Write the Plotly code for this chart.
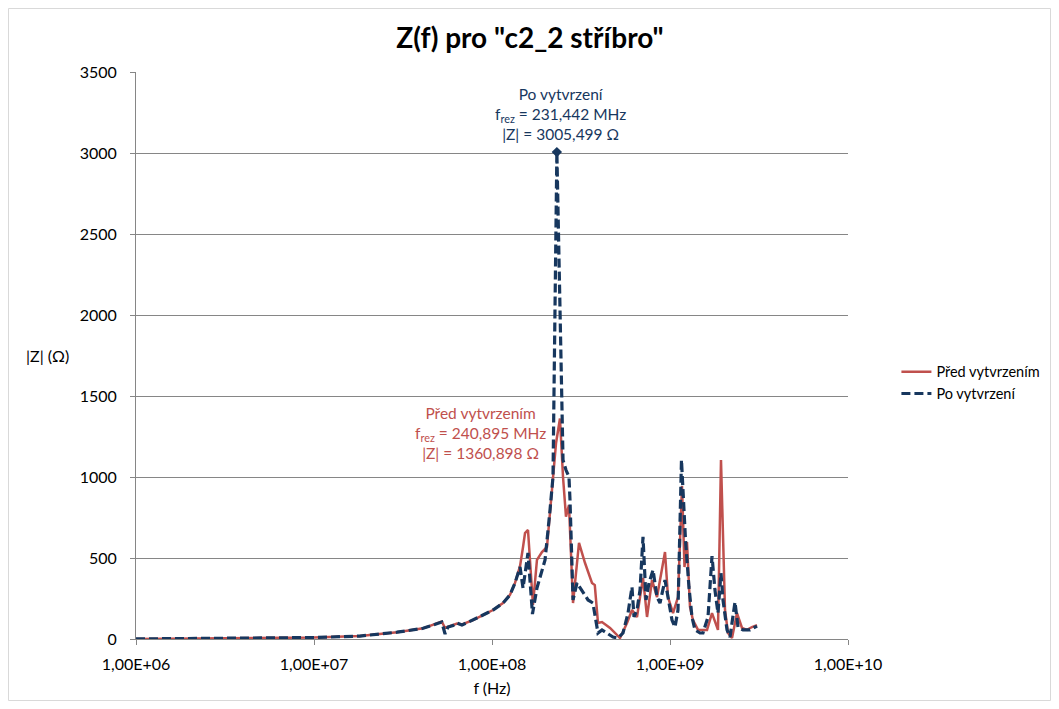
import plotly.graph_objects as go

# --- Data ---
# "Před vytvrzením" (before curing)
f_pred_mhz = [1.0, 1.77, 3.16, 5.66, 10.0, 18.1, 29.3, 41.0, 49.1, 52.2, 54.5, 56.6, 60.4, 63.6, 67.8,
              78.2, 89.0, 101.3, 115.3, 126.2, 134.7, 143.7, 149.4, 153.3, 159.3, 165.6, 169.9, 178.9,
              190.9, 203.7, 217.3, 229.0, 240.895, 250.6, 260.4, 270.7, 285.2, 308.2, 333.1, 364.6,
              378.0, 393.9, 415.0, 460.3, 523.9, 573.4, 611.6, 652.5, 705.3, 742.8, 792.5, 845.3,
              937.4, 974.5, 1040, 1109, 1168, 1206, 1246, 1295, 1346, 1437, 1513, 1614, 1722, 1860,
              1934, 2037, 2118, 2230, 2379, 2538, 2708, 2888, 3082]
z_pred = [0.5, 1.5, 3, 5, 9, 18, 42, 66, 95, 108, 68, 74, 83, 95, 90,
          117, 148, 179, 222, 272, 346, 450, 568, 654, 673, 407, 210, 488,
          537, 568, 901, 1210, 1360.898, 1000, 755, 827, 222, 593, 469, 346,
          333, 99, 105, 68, 6, 99, 179, 136, 377, 136, 364, 259,
          537, 259, 160, 259, 944, 444, 599, 198, 117, 56, 56, 56, 160, 56,
          1105, 179, 37, 6, 160, 68, 56, 74, 86]

# "Po vytvrzení" (after curing)
f_po_mhz = [1.0, 1.77, 3.16, 5.66, 10.0, 18.1, 29.3, 41.0, 49.1, 52.2, 54.5, 56.6, 60.4, 63.2, 67.8,
            78.2, 89.0, 101.3, 115.3, 126.2, 134.7, 143.7, 149.4, 159.3, 168.8, 178.9, 198.6, 211.8,
            220.1, 231.442, 250.6, 260.4, 270.7, 274.3, 285.2, 300.3, 320.3, 346.3, 369.0, 383.9,
            393.9, 415.0, 442.8, 478.5, 510.5, 544.5, 580.8, 611.6, 627.7, 652.5, 678.5, 705.3,
            733.3, 762.3, 802.8, 845.3, 878.7, 937.4, 974.5, 1026, 1067, 1109, 1160, 1222, 1278,
            1329, 1382, 1474, 1532, 1635, 1722, 1789, 1860, 1934, 1985, 2091, 2173, 2318, 2410,
            2571, 2814, 3082]
z_po = [0.5, 1.5, 3, 5, 9, 18, 42, 66, 95, 105, 31, 74, 83, 100, 86,
        117, 148, 179, 222, 272, 346, 444, 315, 531, 154, 315, 488, 796,
        1000, 3005.499, 1105, 1043, 1000, 858, 241, 346, 302, 241, 222, 117,
        37, 56, 37, 12, 6, 37, 160, 321, 136, 179, 302, 630,
        241, 346, 426, 259, 222, 364, 259, 117, 74, 179, 1105, 611, 321,
        136, 56, 37, 37, 136, 512, 302, 160, 407, 241, 56, 12, 228, 74,
        56, 56, 80]

# Resonance labels
peak_po_f_mhz = 231.442
peak_po_z = 3005.499
peak_pred_f_mhz = 240.895
peak_pred_z = 1360.898

x_tick_vals = [1e6, 1e7, 1e8, 1e9, 1e10]
x_tick_text = ["1,00E+06", "1,00E+07", "1,00E+08", "1,00E+09", "1,00E+10"]

RED = "#C0504D"
NAVY = "#17375E"
FONT = "Lato, 'Open Sans', sans-serif"


def cz(v):
    return f"{v:.3f}".replace(".", ",")


fig = go.Figure()
fig.add_trace(go.Scatter(
    x=[v * 1e6 for v in f_pred_mhz], y=z_pred, mode="lines", name="Před vytvrzením",
    line=dict(color=RED, width=2.5)))
fig.add_trace(go.Scatter(
    x=[v * 1e6 for v in f_po_mhz], y=z_po, mode="lines", name="Po vytvrzení",
    line=dict(color=NAVY, width=3.2, dash="9px,4px")))
fig.add_trace(go.Scatter(
    x=[peak_po_f_mhz * 1e6], y=[peak_po_z], mode="markers", showlegend=False,
    marker=dict(symbol="diamond", size=8, color=NAVY)))

fig.add_annotation(
    x=8.385, y=peak_po_z, xref="x", yref="y", showarrow=False,
    text=("Po vytvrzení<br>f<sub>rez</sub> = " + cz(peak_po_f_mhz)
          + " MHz<br>|Z| = " + cz(peak_po_z) + " Ω"),
    font=dict(color=NAVY, size=15.5, family=FONT), align="center", yshift=38)

fig.add_annotation(
    x=8.0, y=peak_pred_z, xref="x", yref="y", showarrow=False,
    text=("Před vytvrzením<br>f<sub>rez</sub> = " + cz(peak_pred_f_mhz)
          + " MHz<br>|Z| = " + cz(peak_pred_z) + " Ω"),
    font=dict(color=RED, size=15.5, family=FONT), align="center", xshift=-12, yshift=-14)

fig.add_annotation(
    x=-0.1236, y=0.5, xref="paper", yref="paper", showarrow=False,
    text="|Z| (Ω)", font=dict(size=16, color="black", family=FONT), xanchor="center")

W, H = 1043, 693
L, T = 128, 64
PW, PH = 712, 567

fig.update_layout(
    width=W, height=H,
    margin=dict(l=L, r=W - L - PW, t=T, b=H - T - PH, autoexpand=False),
    paper_bgcolor="white", plot_bgcolor="white",
    font=dict(family=FONT, size=14, color="black"),
    title=dict(text='Z(f) pro "c2_2 stříbro"', x=(530 - 8) / W, xanchor="center",
               y=1 - 30 / H, yanchor="middle",
               font=dict(size=28, family=FONT, color="black", weight="bold")),
    legend=dict(x=1.068, y=0.452, xanchor="left", yanchor="middle",
                font=dict(size=14.5, family=FONT), bgcolor="rgba(0,0,0,0)",
                tracegroupgap=4, itemwidth=30),
    xaxis=dict(type="log", range=[6, 10], tickvals=x_tick_vals, ticktext=x_tick_text,
               showgrid=False, showline=True, linecolor="#868686", linewidth=1,
               ticks="outside", ticklen=5, tickcolor="#868686", zeroline=False,
               ticklabelstandoff=6,
               title=dict(text="f (Hz)", font=dict(size=16), standoff=10),
               tickfont=dict(size=16)),
    yaxis=dict(range=[0, 3500], dtick=500, showgrid=True, gridcolor="#868686", gridwidth=1,
               showline=True, linecolor="#868686", linewidth=1, ticks="outside", ticklen=5,
               tickcolor="#868686", zeroline=False, tickfont=dict(size=16),
               ticklabelstandoff=10),
    shapes=[dict(type="rect", xref="paper", yref="paper",
                 x0=(0.5 - L) / PW, x1=(W - 0.5 - L) / PW,
                 y0=(T + PH - (H - 0.5)) / PH, y1=(T + PH - 0.5) / PH,
                 line=dict(color="#D9D9D9", width=1))],
)

fig.write_html("out.html")
